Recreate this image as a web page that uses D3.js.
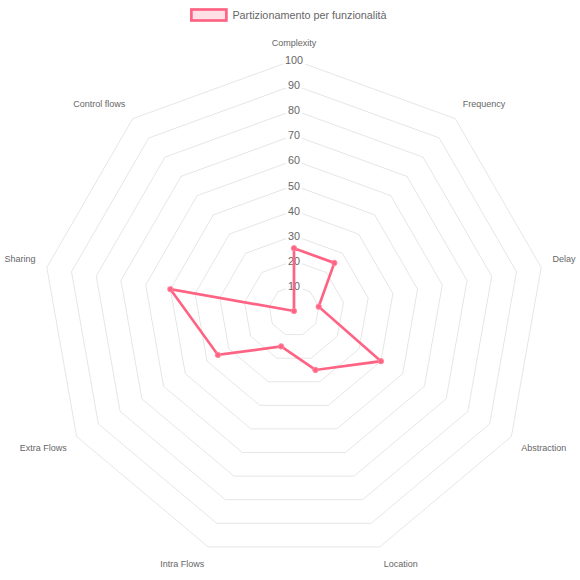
<!DOCTYPE html>
<html>
<head>
<meta charset="utf-8">
<script src="https://cdn.jsdelivr.net/npm/d3@7"></script>
<style>
  body { margin: 0; background: #fff; }
  svg { display: block; font-family: "Liberation Sans", Arial, sans-serif; }
</style>
</head>
<body>
<div id="chart"></div>
<script>
// axes, clockwise from the top
var labels = ["Complexity", "Frequency", "Delay", "Abstraction", "Location", "Intra Flows", "Extra Flows", "Sharing", "Control flows"];
var values = [25, 25, 10, 40, 25, 15, 35, 50, 0];
var ticks = [10, 20, 30, 40, 50, 60, 70, 80, 90, 100];
var seriesName = "Partizionamento per funzionalità";

var W = 580, H = 580, cx = 294, cy = 311;
var red = "#ff6384";

var svg = d3.select("#chart").append("svg").attr("width", W).attr("height", H);

var r = d3.scaleLinear().domain([0, 100]).range([0, 251]);
var a = d3.scaleLinear().domain([0, labels.length]).range([0, 2 * Math.PI]);

var g = svg.append("g").attr("transform", "translate(" + cx + "," + cy + ")");

//Grid rings
var ring = d3.lineRadial()
  .angle(function (d, i) { return a(i); })
  .curve(d3.curveLinearClosed);

g.selectAll(".ring").data(ticks).enter().append("path")
  .attr("class", "ring")
  .attr("d", function (t) { return ring.radius(r(t))(labels); })
  .attr("fill", "none")
  .attr("stroke", "rgba(0,0,0,0.1)")
  .attr("stroke-width", 1);

//Point labels
var outer = r(100) + 11.5;
g.selectAll(".plabel").data(labels).enter().append("text")
  .attr("class", "plabel")
  .attr("x", function (d, i) { return outer * Math.sin(a(i)); })
  .attr("y", function (d, i) {
    var c = Math.cos(a(i));
    return -outer * c + (c > 0 ? -6 : 6);
  })
  .attr("dominant-baseline", "central")
  .attr("text-anchor", function (d, i) {
    var s = Math.sin(a(i));
    return Math.abs(s) < 0.01 ? "middle" : (s > 0 ? "start" : "end");
  })
  .style("font-size", "9px")
  .attr("fill", "#666")
  .text(function (d) { return d; });

//Tick labels with white backdrop
var tk = g.selectAll(".tick").data(ticks).enter().append("g").attr("class", "tick")
  .attr("transform", function (t) { return "translate(0," + (-r(t)) + ")"; });
tk.append("rect").attr("fill", "#fff");
tk.append("text")
  .attr("text-anchor", "middle")
  .attr("dominant-baseline", "central")
  .style("font-size", "10.8px")
  .attr("fill", "#666")
  .text(function (t) { return t; })
  .each(function () {
    var w = this.getComputedTextLength();
    d3.select(this.parentNode).select("rect")
      .attr("x", -w / 2 - 2).attr("y", -7.4).attr("width", w + 4).attr("height", 14.8);
  });

//Data line
var line = d3.lineRadial()
  .angle(function (d, i) { return a(i); })
  .radius(function (d) { return r(d); })
  .curve(d3.curveLinearClosed);

g.append("path")
  .attr("d", line(values))
  .attr("fill", "none")
  .attr("stroke", red)
  .attr("stroke-width", 2.7)
  .attr("stroke-linejoin", "miter");

g.selectAll(".pt").data(values).enter().append("circle")
  .attr("class", "pt")
  .attr("cx", function (d, i) { return r(d) * Math.sin(a(i)); })
  .attr("cy", function (d, i) { return -r(d) * Math.cos(a(i)); })
  .attr("r", 2.7)
  .attr("fill", red)
  .attr("stroke", "#ff8aa2")
  .attr("stroke-width", 1);

//Legend
var lg = svg.append("g");
var lt = lg.append("text")
  .attr("y", 14.5)
  .attr("dominant-baseline", "central")
  .style("font-size", "10.8px")
  .attr("fill", "#666")
  .text(seriesName);
var tw = lt.node().getComputedTextLength();
var boxW = 35, gap = 6;
var x0 = W / 2 - (boxW + gap + tw) / 2 - 1;
lg.append("rect")
  .attr("x", x0).attr("y", 9.5).attr("width", boxW).attr("height", 11)
  .attr("fill", "rgba(255,99,132,0.2)")
  .attr("stroke", red)
  .attr("stroke-width", 2.7);
lt.attr("x", x0 + boxW + gap);
</script>
</body>
</html>
